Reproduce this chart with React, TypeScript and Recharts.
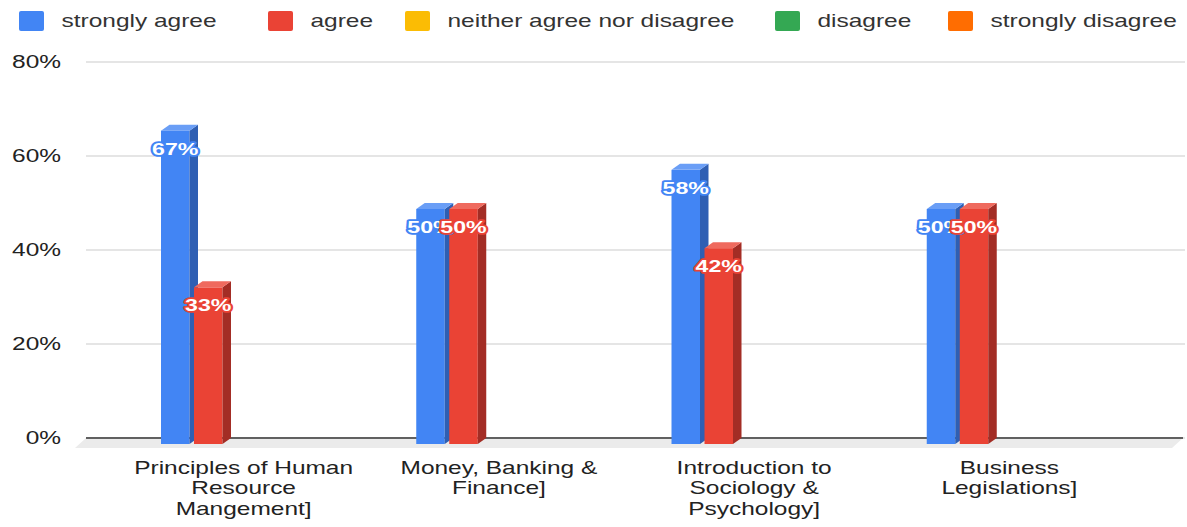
import React from 'react';
import { BarChart, Bar, XAxis, YAxis, CartesianGrid, Legend, LabelList, ReferenceLine } from 'recharts';

// ---- data ----
const categories = [
  'Principles of Human Resource Mangement]',
  'Money, Banking & Finance]',
  'Introduction to Sociology & Psychology]',
  'Business Legislations]',
];
const seriesNames = ['strongly agree', 'agree', 'neither agree nor disagree', 'disagree', 'strongly disagree'];
const stronglyAgree = [66.67, 50, 58.33, 50];
const agree = [33.33, 50, 41.67, 50];
const neither = [0, 0, 0, 0];
const disagree = [0, 0, 0, 0];
const stronglyDisagree = [0, 0, 0, 0];
const yTicks = [0, 20, 40, 60, 80];

// ---- styling ----
const seriesColors = ['#4285f4', '#ea4335', '#fbbc04', '#34a853', '#ff6d01'];
const sideColors = ['#2f5fb3', '#a32d25', '#b08403', '#24763a', '#b34c01'];
const topColors = ['#6a9ef6', '#ef6a5e', '#fccd4f', '#5cba75', '#ff8f3d'];
const FONT = '"Liberation Sans", Arial, sans-serif';
const SX = 1.36; // horizontal stretch of the reference text
const DX = 8.5; // 3D depth x
const DY = 6; // 3D depth y
const legendX = [19, 268, 405, 775, 948];

const seriesKeys = ['s0', 's1', 's2', 's3', 's4'];
const seriesValues = [stronglyAgree, agree, neither, disagree, stronglyDisagree];
const data = categories.map((name, i) => {
  const row: any = { name };
  seriesKeys.forEach((k, s) => {
    row[k] = seriesValues[s][i];
  });
  return row;
});

let ctx: CanvasRenderingContext2D | null = null;
function measure(t: string, font: string): number {
  if (!ctx) ctx = document.createElement('canvas').getContext('2d');
  if (!ctx) return t.length * 9;
  ctx.font = font;
  return ctx.measureText(t).width;
}

function wrap(text: string, maxW: number, font: string): string[] {
  const words = text.split(' ');
  const lines: string[] = [];
  let cur = '';
  words.forEach((w) => {
    const test = cur ? cur + ' ' + w : w;
    if (cur && measure(test, font) * SX > maxW) {
      lines.push(cur);
      cur = w;
    } else cur = test;
  });
  if (cur) lines.push(cur);
  return lines;
}

const makeShape = (s: number) => (props: any) => {
  const { x, y, width, height } = props;
  if (!height || height <= 0) return <g />;
  const fw = width - 4.5;
  return (
    <g>
      <rect x={x} y={y + DY} width={fw} height={height} fill={seriesColors[s]} />
      <polygon
        points={`${x + fw},${y + DY} ${x + fw + DX},${y} ${x + fw + DX},${y + height} ${x + fw},${y + height + DY}`}
        fill={sideColors[s]}
      />
      <polygon
        points={`${x},${y + DY} ${x + DX},${y} ${x + fw + DX},${y} ${x + fw},${y + DY}`}
        fill={topColors[s]}
      />
    </g>
  );
};

const makeLabel = (s: number) => (props: any) => {
  const { x, y, width, value } = props;
  if (!value || value <= 0) return null;
  const fw = width - 4.5;
  const cx = x + fw / 2;
  const cy = y + 24;
  return (
    <text
      transform={`translate(${cx},${cy}) scale(${SX},1)`}
      textAnchor="middle"
      dominantBaseline="central"
      fill="#ffffff"
      stroke={seriesColors[s]}
      strokeWidth={3.5}
      strokeLinejoin="round"
      paintOrder="stroke"
      fontFamily={FONT}
      fontWeight="bold"
      fontSize={17}
    >
      {`${Math.round(value)}%`}
    </text>
  );
};

const XTick = (props: any) => {
  const { x, y, payload } = props;
  const lines = wrap(String(payload.value), 230, `18px ${FONT}`);
  return (
    <g>
      {lines.map((l, i) => (
        <text
          key={i}
          transform={`translate(${x},${y + 30 + i * 20.5}) scale(${SX},1)`}
          textAnchor="middle"
          dominantBaseline="central"
          fill="#222"
          fontFamily={FONT}
          fontSize={18}
        >
          {l}
        </text>
      ))}
    </g>
  );
};

const YTick = (props: any) => {
  const { x, y, payload } = props;
  return (
    <text
      transform={`translate(${x},${y}) scale(${SX},1)`}
      textAnchor="end"
      dominantBaseline="central"
      fill="#222"
      fontFamily={FONT}
      fontSize={18}
    >
      {`${payload.value}%`}
    </text>
  );
};

const FloorShape = (props: any) => {
  const { x1, y1, x2 } = props;
  if (x1 === undefined) return <g />;
  return (
    <g>
      <polygon points={`${x1},${y1} ${x2 - 2},${y1} ${x2 - 13},${y1 + 10} ${x1 - 11},${y1 + 10}`} fill="#ebebeb" />
      <line x1={x1} y1={y1} x2={x2 - 2} y2={y1} stroke="#333" strokeWidth={1.5} />
    </g>
  );
};

const LegendContent = () => (
  <svg width={1187} height={40} style={{ display: 'block' }}>
    {seriesNames.map((n, i) => (
      <g key={n}>
        <rect x={legendX[i]} y={11} width={25} height={20} rx={2} fill={seriesColors[i]} />
        <text
          transform={`translate(${legendX[i] + 42.5},${21}) scale(${SX},1)`}
          dominantBaseline="central"
          fill="#333"
          fontFamily={FONT}
          fontSize={18}
        >
          {n}
        </text>
      </g>
    ))}
  </svg>
);

export default function App() {
  return (
    <div style={{ position: 'absolute', left: 0, top: 0, width: 1187, height: 527, background: '#fff' }}>
      <BarChart
        width={1187}
        height={527}
        data={data}
        margin={{ top: 62, right: 2, bottom: 0, left: 0 }}
        barGap={0}
        barSize={33}
      >
        <CartesianGrid vertical={false} stroke="#cccccc" strokeWidth={1.2} />
        <XAxis
          dataKey="name"
          height={89}
          padding={{ left: 30, right: 48 }}
          axisLine={false}
          tickLine={false}
          tickSize={0}
          tickMargin={0}
          interval={0}
          tick={<XTick />}
        />
        <YAxis
          domain={[0, 80]}
          ticks={yTicks}
          width={86}
          axisLine={false}
          tickLine={false}
          tickSize={0}
          tickMargin={25}
          tick={<YTick />}
        />
        <Legend
          layout="horizontal"
          verticalAlign="middle"
          align="center"
          wrapperStyle={{ position: 'absolute', top: 0, left: 0, width: 1187, height: 40 }}
          content={<LegendContent />}
        />
        <ReferenceLine y={0} shape={FloorShape} {...({ zIndex: -60 } as any)} ifOverflow="visible" />
        {seriesKeys.map((k, s) => (
          <Bar key={k} dataKey={k} name={seriesNames[s]} fill={seriesColors[s]} shape={makeShape(s)} isAnimationActive={false}>
            <LabelList dataKey={k} content={makeLabel(s)} />
          </Bar>
        ))}
      </BarChart>
    </div>
  );
}
